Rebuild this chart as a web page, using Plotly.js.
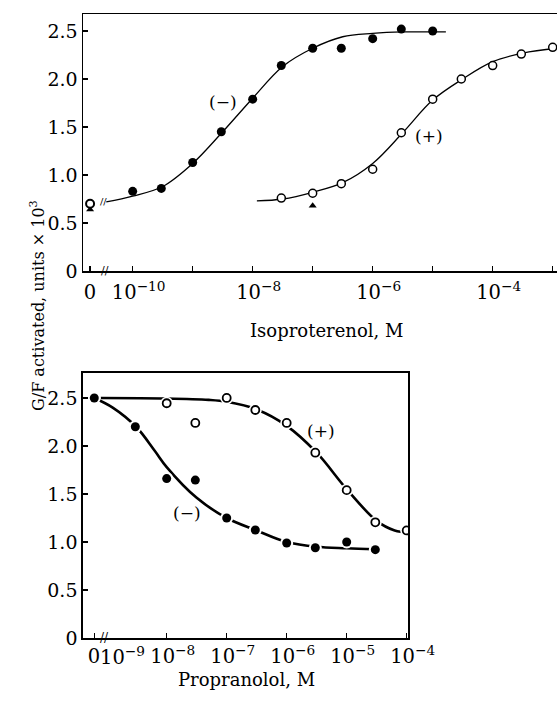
<!DOCTYPE html>
<html><head><meta charset="utf-8">
<script src="https://cdn.plot.ly/plotly-3.0.1.min.js"></script>
<style>html,body{margin:0;padding:0;background:#fff;overflow:hidden}</style>
</head><body><div id="chart" style="width:557px;height:701px"></div>
<script>
// ---- Top panel: isoproterenol (concentrations, M) ----
const ZERO_TOP_EXP = -10.71;   // axis-break position used for "0" concentration
const isoMinusX = [1e-10, 3e-10, 1e-9, 3e-9, 1e-8, 3e-8, 1e-7, 3e-7, 1e-6, 3e-6, 1e-5];
const isoMinusY = [0.83, 0.86, 1.13, 1.45, 1.79, 2.14, 2.32, 2.32, 2.42, 2.52, 2.50];
const isoPlusX = [3e-8, 1e-7, 3e-7, 1e-6, 3e-6, 1e-5, 3e-5, 1e-4, 3e-4, 1e-3];
const isoPlusY = [0.76, 0.81, 0.91, 1.06, 1.44, 1.79, 2.00, 2.14, 2.26, 2.33];
const isoZeroOpenY = [0.70];
const isoTriX = [1e-7];
const isoTriY = [0.68];
const isoZeroTriY = [0.64];
const isoMinusCurveExp = [-10.44, -10, -9.5, -9, -8.5, -8, -7.5, -7, -6.5, -6, -5.5, -4.78];
const isoMinusCurveY   = [0.72, 0.78, 0.88, 1.12, 1.45, 1.80, 2.13, 2.32, 2.44, 2.475, 2.49, 2.49];
const isoPlusCurveExp  = [-7.93, -7.5, -7, -6.5, -6, -5.5, -5, -4.5, -4, -3.5, -2.93];
const isoPlusCurveY    = [0.73, 0.75, 0.82, 0.92, 1.12, 1.44, 1.78, 2.00, 2.18, 2.27, 2.32];

// ---- Bottom panel: propranolol ----
const ZERO_BOT_EXP = -9.207;
const proMinusX = [0, 3e-9, 1e-8, 3e-8, 1e-7, 3e-7, 1e-6, 3e-6, 1e-5, 3e-5];
const proMinusY = [2.50, 2.20, 1.66, 1.645, 1.25, 1.125, 0.99, 0.94, 1.00, 0.92];
const proPlusX = [1e-8, 3e-8, 1e-7, 3e-7, 1e-6, 3e-6, 1e-5, 3e-5, 1e-4];
const proPlusY = [2.445, 2.24, 2.50, 2.375, 2.24, 1.93, 1.54, 1.205, 1.12];
const proMinusCurveExp = [-9.207, -8.9, -8.51, -8.2, -8, -7.5, -7, -6.5, -6, -5.5, -5, -4.53];
const proMinusCurveY   = [2.50, 2.40, 2.20, 1.95, 1.78, 1.46, 1.25, 1.12, 1.00, 0.95, 0.935, 0.925];
const proPlusCurveExp  = [-9.1, -8, -7.3, -7, -6.5, -6, -5.5, -5, -4.5, -4.2, -3.97];
const proPlusCurveY    = [2.50, 2.495, 2.48, 2.46, 2.38, 2.21, 1.93, 1.55, 1.22, 1.12, 1.10];

const yTickVals = [0, 0.5, 1.0, 1.5, 2.0, 2.5];
const yTickText = ['0', '0.5', '1.0', '1.5', '2.0', '2.5'];
const NB = '\u00a0';
const topTickExp = [ZERO_TOP_EXP, -10, -8, -6, -4];
const topTickText = ['0' + NB + NB, '10<sup>−10</sup>', '10<sup>−8</sup>', '10<sup>−6</sup>', '10<sup>−4</sup>'];
const topMinorExp = [-9, -7, -5, -3];
const botTickExp = [ZERO_BOT_EXP, -8, -7, -6, -5, -4];
const botTickText = ['0' + NB + NB, '10<sup>−8</sup>', '10<sup>−7</sup>', '10<sup>−6</sup>', '10<sup>−5</sup>', '10<sup>−4</sup>'];

const P = e => Math.pow(10, e);
const zt = P(ZERO_TOP_EXP), zb = P(ZERO_BOT_EXP);
const proMinusXp = proMinusX.map(v => v === 0 ? zb : v);

const FONT = 'DejaVu Serif';
const K = '#000';
const YT = 19, XT = 19.5;

const traces = [
  {x: isoMinusCurveExp.map(P), y: isoMinusCurveY, mode: 'lines', line: {shape: 'spline', color: K, width: 1.3}, xaxis: 'x', yaxis: 'y'},
  {x: isoPlusCurveExp.map(P), y: isoPlusCurveY, mode: 'lines', line: {shape: 'spline', color: K, width: 1.3}, xaxis: 'x', yaxis: 'y'},
  {x: isoMinusX, y: isoMinusY, mode: 'markers', marker: {symbol: 'circle', size: 9, color: K}, xaxis: 'x', yaxis: 'y'},
  {x: isoPlusX, y: isoPlusY, mode: 'markers', marker: {symbol: 'circle', size: 8, color: '#fff', line: {color: K, width: 1.5}}, xaxis: 'x', yaxis: 'y'},
  {x: isoTriX.concat([zt]), y: isoTriY.concat(isoZeroTriY), mode: 'markers', marker: {symbol: 'triangle-up', size: 7, color: K}, xaxis: 'x', yaxis: 'y'},
  {x: [zt], y: isoZeroOpenY, mode: 'markers', marker: {symbol: 'circle', size: 8, color: '#fff', line: {color: K, width: 2}}, xaxis: 'x', yaxis: 'y'},
  {x: proMinusCurveExp.map(P), y: proMinusCurveY, mode: 'lines', line: {shape: 'spline', color: K, width: 2.6}, xaxis: 'x2', yaxis: 'y2'},
  {x: proPlusCurveExp.map(P), y: proPlusCurveY, mode: 'lines', line: {shape: 'spline', color: K, width: 2.6}, xaxis: 'x2', yaxis: 'y2'},
  {x: proMinusXp.concat(proPlusX), y: proMinusY.concat(proPlusY), mode: 'markers', marker: {symbol: 'circle', size: 13, color: '#fff'}, xaxis: 'x2', yaxis: 'y2'},
  {x: proMinusXp, y: proMinusY, mode: 'markers', marker: {symbol: 'circle', size: 9, color: K}, xaxis: 'x2', yaxis: 'y2'},
  {x: proPlusX, y: proPlusY, mode: 'markers', marker: {symbol: 'circle', size: 8, color: '#fff', line: {color: K, width: 1.8}}, xaxis: 'x2', yaxis: 'y2'}
];

const axCommon = {
  showgrid: false, zeroline: false, showline: true, linecolor: K,
  ticks: 'inside', ticklen: 5, tickcolor: K, tickwidth: 1.2
};
const xTickFont = {family: FONT, size: XT, color: K};
const yTickFont = {family: FONT, size: YT, color: K};

const annFont = {family: FONT, size: 17, color: K};
const layout = {
  width: 557, height: 701,
  margin: {l: 0, r: 0, t: 0, b: 0},
  font: {family: FONT, size: YT, color: K},
  paper_bgcolor: '#fff', plot_bgcolor: '#fff',
  showlegend: false,
  xaxis: Object.assign({}, axCommon, {
    type: 'log', domain: [83/557, 1], range: [-10.828, -2.928],
    tickmode: 'array', tickvals: topTickExp.map(P), ticktext: topTickText, tickfont: xTickFont, ticklabelshift: 6, ticklabelstandoff: 3,
    minor: {tickmode: 'array', tickvals: topMinorExp.map(P), ticks: 'inside', ticklen: 5, tickcolor: K, tickwidth: 1.2, showgrid: false},
    mirror: true, linewidth: 1.5, anchor: 'y'
  }),
  yaxis: Object.assign({}, axCommon, {
    domain: [1 - 271/701, 1 - 14/701], range: [0, 2.677],
    tickmode: 'array', tickvals: yTickVals, ticktext: yTickText, tickfont: yTickFont,
    linewidth: 1.5, anchor: 'x'
  }),
  xaxis2: Object.assign({}, axCommon, {
    type: 'log', domain: [83.3/557, 408.3/557], range: [-9.39, -3.973],
    tickmode: 'array', tickvals: botTickExp.map(P), ticktext: botTickText, tickfont: xTickFont, ticklabelshift: 6,
    mirror: true, linewidth: 2, anchor: 'y2'
  }),
  yaxis2: Object.assign({}, axCommon, {
    domain: [1 - 638/701, 1 - 373.3/701], range: [0, 2.757],
    tickmode: 'array', tickvals: yTickVals, ticktext: yTickText, tickfont: yTickFont,
    mirror: true, linewidth: 2, anchor: 'x2'
  }),
  annotations: [
    {xref: 'x', yref: 'y', x: -8.495, y: 1.76, text: '(−)', showarrow: false, font: annFont},
    {xref: 'x', yref: 'y', x: -5.057, y: 1.406, text: '(+)', showarrow: false, font: annFont},
    {xref: 'x2', yref: 'y2', x: -5.433, y: 2.156, text: '(+)', showarrow: false, font: annFont},
    {xref: 'x2', yref: 'y2', x: -7.667, y: 1.305, text: '(−)', showarrow: false, font: annFont},
    {xref: 'paper', yref: 'paper', x: 98/557, xanchor: 'left', y: 1 - 641/701, yanchor: 'top', text: '10<sup>−9</sup>', showarrow: false, font: xTickFont},
    {xref: 'x', yref: 'y', x: -10.46, y: 0, text: '//', showarrow: false, font: {family: FONT, size: 11, color: K}},
    {xref: 'x', yref: 'y', x: -10.49, y: 0.72, text: '//', showarrow: false, font: {family: FONT, size: 10, color: K}},
    {xref: 'x2', yref: 'y2', x: -9.045, y: 0, text: '//', showarrow: false, font: {family: FONT, size: 12, color: K}},
    {xref: 'paper', yref: 'paper', x: 326/557, y: 1 - 330/701, text: 'Isoproterenol, M', showarrow: false, font: {family: FONT, size: 18, color: K}},
    {xref: 'paper', yref: 'paper', x: 246/557, y: 1 - 691.5/701, text: 'Propranolol, M', showarrow: false, font: {family: FONT, size: 18, color: K}},
    {xref: 'paper', yref: 'paper', x: 25/557, y: 1 - 305.5/701, text: 'G/F activated, units × 10<sup>3</sup>', textangle: -90, showarrow: false, font: {family: FONT, size: 16, color: K}}
  ]
};

Plotly.newPlot('chart', traces, layout, {staticPlot: true, displayModeBar: false});
</script></body></html>
